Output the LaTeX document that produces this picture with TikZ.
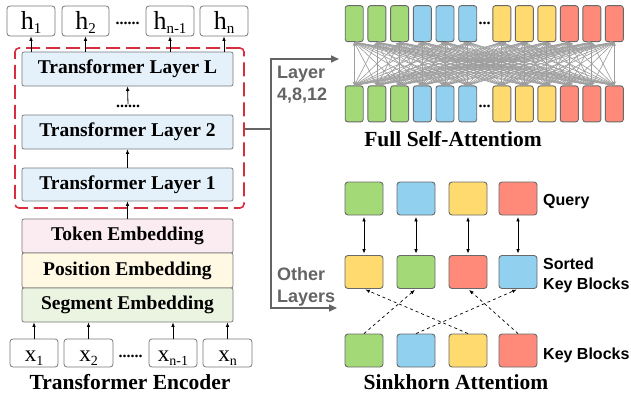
\documentclass[tikz,border=0pt]{standalone}
\usepackage{fontspec}
\setmainfont{Liberation Serif}
\newfontfamily\sansf{Liberation Sans}
\usetikzlibrary{arrows.meta}
\definecolor{cgreen}{RGB}{164,217,119}
\definecolor{cblue}{RGB}{146,208,240}
\definecolor{cyellow}{RGB}{255,218,110}
\definecolor{cred}{RGB}{255,138,122}
\definecolor{layerfill}{RGB}{228,241,251}
\definecolor{tokfill}{RGB}{251,236,242}
\definecolor{posfill}{RGB}{255,248,227}
\definecolor{segfill}{RGB}{234,244,225}
\definecolor{encred}{RGB}{215,45,60}
\definecolor{boxgray}{RGB}{120,120,120}
\definecolor{bargray}{RGB}{105,105,105}
\definecolor{attgray}{RGB}{158,158,158}
\definecolor{conngray}{RGB}{100,100,100}
\definecolor{labgray}{RGB}{100,100,100}
\newcommand\hsub[1]{\raisebox{-4pt}{\fontsize{15}{15}\selectfont #1}}
\newcommand\xsub[1]{\raisebox{-4pt}{\fontsize{14}{14}\selectfont #1}}
\begin{document}
\begin{tikzpicture}[x=1pt,y=-1pt,
  hbox/.style={draw=boxgray, line width=0.8pt, rounded corners=3pt, fill=white,
    minimum width=48pt, minimum height=30pt, inner sep=0pt, text height=18pt, text depth=0pt,
    font=\fontsize{26}{26}\selectfont},
  xbox/.style={draw=boxgray, line width=0.8pt, rounded corners=3pt, fill=white,
    minimum width=48pt, minimum height=28pt, inner sep=0pt, text height=17pt, text depth=0pt,
    font=\fontsize{23}{23}\selectfont},
  layerbox/.style={draw=boxgray, line width=0.7pt, rounded corners=2pt,
    minimum width=211pt, minimum height=34pt, inner sep=0pt,
    font=\fontsize{19.5}{19.5}\selectfont\bfseries},
  arr/.style={-{Latex[length=4.5pt,width=3.6pt]}, line width=0.8pt},
  conn/.style={draw=conngray, line width=1.6pt},
  conntip/.style={-{Triangle[length=8pt,width=7pt]}},
  bar/.style={draw=bargray, line width=0.9pt, rounded corners=2.5pt,
    minimum width=18pt, minimum height=36pt, inner sep=0pt},
  sq/.style={draw=bargray, line width=0.9pt, rounded corners=3pt,
    minimum width=38pt, minimum height=33pt, inner sep=0pt},
  att/.style={draw=attgray, line width=0.65pt,
    {Stealth[length=4pt,width=3.4pt]}-{Stealth[length=4pt,width=3.4pt]}},
  lab/.style={inner sep=0pt, font=\sansf\bfseries\fontsize{16}{16}\selectfont},
  glab/.style={inner sep=0pt, text=labgray, font=\sansf\bfseries\fontsize{18}{18}\selectfont},
  title/.style={inner sep=0pt, font=\bfseries\fontsize{21.5}{21.5}\selectfont},
  dotsn/.style={inner sep=0pt, font=\bfseries\fontsize{16}{16}\selectfont}
]
\useasboundingbox (0,0) rectangle (631,396);

% ---------------- Transformer encoder ----------------
\node[draw=encred, line width=1.6pt, dash pattern=on 14pt off 6pt, rounded corners=4pt,
  minimum width=229pt, minimum height=160pt, inner sep=0pt] (enc) at (129.5,128) {};

\node[hbox] (h1) at (31,21) {h\hsub{1}};
\node[hbox, minimum width=47pt] (h2) at (85.5,21) {h\hsub{2}};
\node[hbox] (h3) at (170,21) {h\hsub{n-1}};
\node[hbox] (h4) at (224,21) {h\hsub{n}};
\node[dotsn, anchor=base] (hd) at (127.5,25) {......};

\node[layerbox, fill=layerfill] (l3) at (127.5,69) {Transformer Layer L};
\node[layerbox, fill=layerfill] (l2) at (127.5,132) {Transformer Layer 2};
\node[layerbox, fill=layerfill, minimum height=33pt] (l1) at (127.5,184.5) {Transformer Layer 1};
\node[dotsn, anchor=base] (ld) at (128,107) {......};

\node[layerbox, fill=tokfill] (tok) at (127.5,236) {Token Embedding};
\node[layerbox, fill=posfill, minimum height=35pt] (pos) at (127.5,270.5) {Position Embedding};
\node[layerbox, fill=segfill] (seg) at (127.5,305) {Segment Embedding};

\node[xbox] (x1) at (34,353) {x\xsub{1}};
\node[xbox, minimum width=49pt] (x2) at (88.5,353) {x\xsub{2}};
\node[xbox] (x3) at (173,353) {x\xsub{n-1}};
\node[xbox, minimum width=49pt] (x4) at (227.5,353) {x\xsub{n}};
\node[dotsn, anchor=base] (xd) at (130.5,357) {......};

\node[title, anchor=base] (enct) at (130,389) {Transformer Encoder};

\foreach \n in {h1,h2,h3,h4} \draw[arr] (\n |- l3.north) -- (\n.south);
\draw[arr] (ld.north) -- (l3.south);
\draw[arr] (l1.north) -- (l2.south);
\draw[arr] (tok.north) -- (l1.south);
\foreach \n in {x1,x2,x3,x4} \draw[arr] (\n.north) -- (\n |- seg.south);

% ---------------- connectors ----------------
\coordinate (br) at (271,129);
\coordinate (faIn) at (339,59);
\coordinate (skIn) at (337,308);
\draw[conn] (enc.east |- br) -- (br);
\draw[conn, conntip] (br) |- (faIn);
\draw[conn, conntip] (br) |- (skIn);
\node[glab, anchor=base west] (lay1) at (277,78.5) {Layer};
\node[glab, anchor=base west] (lay2) at (277,100.5) {4,8,12};
\node[glab, anchor=base west] (oth1) at (277,280.5) {Other};
\node[glab, anchor=base west] (oth2) at (277,302) {Layers};

% ---------------- Full self-attention ----------------
\foreach \i/\x/\c in {1/354.2/cgreen, 2/376.9/cgreen, 3/399.6/cgreen,
    4/422.3/cblue, 5/445.0/cblue, 6/467.7/cblue,
    7/501.8/cyellow, 8/524.3/cyellow, 9/546.8/cyellow,
    10/569.3/cred, 11/591.8/cred, 12/614.3/cred} {
  \node[bar, fill=\c] (t\i) at (\x,23.7) {};
  \node[bar, fill=\c] (b\i) at (\x,103.9) {};
}
\foreach \i in {1,...,12} {
  \foreach \j in {1,...,12} {
    \draw[att] (t\i.south) -- (b\j.north);
  }
}
\node[dotsn, anchor=base] (fd1) at (484.5,25) {...};
\node[dotsn, anchor=base] (fd2) at (484.5,107) {...};
\node[title, anchor=base] (fat) at (453,146.7) {Full Self-Attentiom};

% ---------------- Sinkhorn attention ----------------
\foreach \i/\x/\cq/\cs/\ck in {1/364/cgreen/cyellow/cgreen, 2/416/cblue/cgreen/cblue,
    3/468/cyellow/cred/cyellow, 4/518/cred/cblue/cred} {
  \node[sq, fill=\cq] (q\i) at (\x,198.5) {};
  \node[sq, fill=\cs] (s\i) at (\x,272) {};
  \node[sq, fill=\ck] (k\i) at (\x,350.5) {};
  \draw[arr, {Latex[length=4.5pt,width=3.6pt]}-{Latex[length=4.5pt,width=3.6pt]},
    shorten <=1.5pt, shorten >=1.5pt] (q\i.south) -- (s\i.north);
}
\foreach \a/\b in {1/2, 2/4, 3/1, 4/3}
  \draw[-{Latex[length=4.5pt,width=3.6pt]}, line width=0.7pt, dashed, shorten >=1.5pt]
    (k\a.north) -- (s\b.south);

\node[lab, anchor=base west] (qlab) at (543,205) {Query};
\node[lab, anchor=base west] (slab1) at (543,269) {Sorted};
\node[lab, anchor=base west] (slab2) at (543,289.3) {Key Blocks};
\node[lab, anchor=base west] (klab) at (543,359) {Key Blocks};
\node[title, anchor=base] (skt) at (456,389.3) {Sinkhorn Attentiom};
\end{tikzpicture}
\end{document}
